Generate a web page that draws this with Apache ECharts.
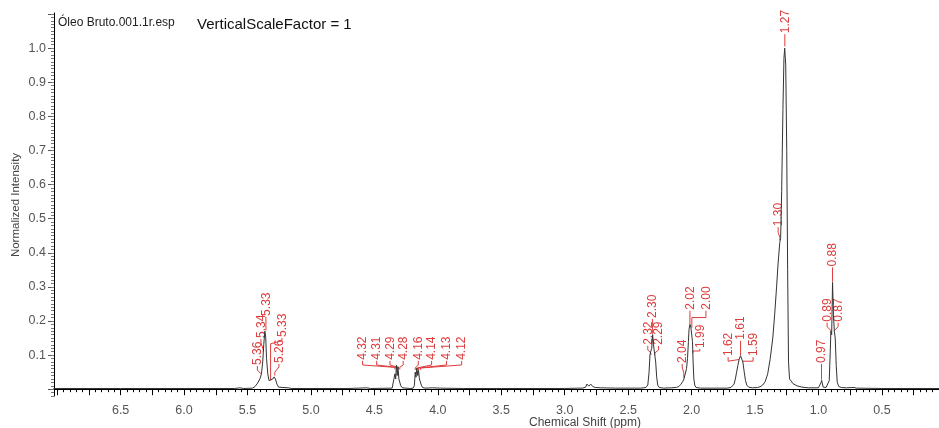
<!DOCTYPE html>
<html>
<head>
<meta charset="utf-8">
<script src="https://cdn.jsdelivr.net/npm/echarts@6/dist/echarts.min.js"></script>
<style>
html,body{margin:0;padding:0;background:#fff;}
#chart{width:939px;height:428px;}
</style>
</head>
<body>
<div id="chart"></div>
<script>
// ---------- DATA ----------
const xTickLabels = [6.5, 6.0, 5.5, 5.0, 4.5, 4.0, 3.5, 3.0, 2.5, 2.0, 1.5, 1.0, 0.5];
const yTickLabels = [0.1, 0.2, 0.3, 0.4, 0.5, 0.6, 0.7, 0.8, 0.9, 1.0];

// spectrum: [chemical shift (ppm), normalized intensity]
const spectrum = [
  [7.03,0.002],[6.5,0.002],[6.0,0.002],[5.60,0.002],[5.56,0.004],[5.53,0.002],
  [5.46,0.003],[5.44,0.008],[5.42,0.018],[5.40,0.032],[5.39,0.045],[5.38,0.08],
  [5.372,0.13],[5.363,0.17],[5.356,0.15],[5.35,0.09],[5.34,0.045],[5.33,0.025],
  [5.315,0.022],[5.30,0.03],[5.29,0.036],[5.28,0.03],[5.268,0.015],[5.255,0.006],
  [5.24,0.003],[5.18,0.004],[5.15,0.002],[4.70,0.002],[4.56,0.004],[4.53,0.002],
  [4.36,0.003],[4.345,0.008],[4.338,0.045],[4.332,0.03],[4.326,0.07],[4.32,0.04],
  [4.314,0.066],[4.307,0.03],[4.300,0.035],[4.292,0.01],[4.28,0.004],[4.22,0.002],
  [4.195,0.003],[4.185,0.01],[4.178,0.05],[4.172,0.035],[4.165,0.062],[4.158,0.04],
  [4.152,0.055],[4.145,0.03],[4.138,0.035],[4.13,0.012],[4.12,0.005],[4.10,0.003],
  [4.04,0.004],[3.98,0.003],[3.80,0.002],[3.50,0.002],[3.00,0.002],[2.90,0.003],
  [2.86,0.003],[2.835,0.006],[2.825,0.015],[2.81,0.009],[2.795,0.015],[2.78,0.008],
  [2.76,0.005],[2.72,0.004],[2.60,0.003],[2.45,0.003],
  [2.40,0.003],[2.36,0.005],[2.345,0.012],[2.335,0.05],[2.328,0.10],[2.321,0.112],
  [2.314,0.12],[2.307,0.16],[2.30,0.13],[2.295,0.115],[2.29,0.118],[2.283,0.08],
  [2.275,0.035],[2.267,0.012],[2.255,0.005],[2.22,0.003],[2.16,0.004],
  [2.12,0.005],[2.10,0.008],[2.085,0.014],[2.07,0.022],[2.06,0.03],[2.05,0.045],
  [2.04,0.06],[2.032,0.09],[2.025,0.14],[2.02,0.175],[2.013,0.19],[2.005,0.18],
  [1.998,0.175],[1.993,0.14],[1.988,0.08],[1.982,0.03],[1.975,0.012],[1.965,0.005],
  [1.93,0.003],[1.80,0.003],
  [1.72,0.003],[1.69,0.005],[1.675,0.008],[1.665,0.015],[1.655,0.03],[1.645,0.05],
  [1.635,0.07],[1.625,0.088],[1.614,0.098],[1.605,0.093],[1.596,0.08],[1.585,0.05],
  [1.575,0.025],[1.565,0.012],[1.55,0.006],[1.52,0.004],[1.48,0.005],
  [1.46,0.007],[1.44,0.012],[1.42,0.022],[1.40,0.045],[1.38,0.09],[1.36,0.15],
  [1.345,0.22],[1.33,0.3],[1.318,0.37],[1.305,0.43],[1.298,0.445],[1.29,0.58],
  [1.28,0.82],[1.272,0.97],[1.266,1.0],[1.258,0.95],[1.25,0.7],[1.243,0.35],
  [1.236,0.08],[1.228,0.03],[1.20,0.016],[1.17,0.01],[1.13,0.006],[1.08,0.004],
  [1.00,0.004],[0.985,0.005],[0.979,0.02],[0.975,0.026],[0.97,0.018],[0.963,0.006],
  [0.94,0.005],[0.925,0.008],[0.915,0.025],[0.908,0.1],[0.902,0.17],[0.896,0.16],
  [0.889,0.313],[0.882,0.22],[0.875,0.17],[0.868,0.15],[0.86,0.07],[0.852,0.02],
  [0.84,0.008],[0.82,0.005],[0.78,0.004],[0.72,0.005],[0.70,0.003],[0.50,0.002],
  [0.05,0.002]
];

// peak labels (text) and their annotation layout
const peakLabels = ['5.36','5.34','5.33','5.33','5.26',
  '4.32','4.31','4.29','4.28','4.16','4.14','4.13','4.12',
  '2.32','2.30','2.29','2.04','2.02','2.00','1.99',
  '1.62','1.61','1.59','1.30','1.27','0.97','0.89','0.88','0.87'];
// [label ppm, label base, elbow top, target ppm, elbow bottom, end]
const peakLabelLayout = [
  [5.422,0.068,0.056,5.394,0.045,0.045],
  [5.394,0.147,0.136,5.375,0.115,0.11],
  [5.355,0.212,0.212,5.355,0.172,0.172],
  [5.229,0.150,0.142,5.318,0.133,0.026],
  [5.252,0.074,0.065,5.285,0.05,0.04],
  [4.593,0.083,0.071,4.338,0.064,0.058],
  [4.482,0.083,0.071,4.326,0.064,0.06],
  [4.377,0.083,0.071,4.314,0.064,0.06],
  [4.273,0.083,0.071,4.300,0.064,0.058],
  [4.154,0.083,0.071,4.178,0.062,0.056],
  [4.049,0.083,0.071,4.165,0.062,0.056],
  [3.931,0.083,0.071,4.152,0.062,0.056],
  [3.812,0.083,0.071,4.138,0.062,0.056],
  [2.345,0.127,0.115,2.321,0.106,0.10],
  [2.307,0.206,0.206,2.307,0.162,0.162],
  [2.260,0.127,0.115,2.290,0.106,0.10],
  [2.074,0.074,0.065,2.061,0.047,0.033],
  [2.013,0.230,0.230,2.013,0.19,0.19],
  [1.887,0.230,0.210,1.998,0.21,0.18],
  [1.935,0.118,0.112,1.990,0.112,0.105],
  [1.712,0.094,0.082,1.627,0.087,0.087],
  [1.614,0.142,0.142,1.614,0.099,0.099],
  [1.515,0.094,0.082,1.596,0.082,0.08],
  [1.318,0.475,0.46,1.304,0.445,0.437],
  [1.265,1.041,1.041,1.265,1.005,1.005],
  [0.976,0.074,0.074,0.976,0.028,0.028],
  [0.932,0.195,0.183,0.902,0.172,0.17],
  [0.889,0.357,0.357,0.889,0.315,0.315],
  [0.845,0.195,0.183,0.875,0.172,0.17]
];

// ---------- CHART ----------
const X_MIN = 0.05, X_MAX = 7.025, Y_MIN = -0.02, Y_MAX = 1.103;
function steps(a, b, s) {
  const r = [];
  for (let i = Math.ceil(a / s - 1e-9); i * s <= b + 1e-9; i++) r.push(+(i * s).toFixed(4));
  return r;
}
const FONT = 'Liberation Sans, Arial, sans-serif';
const RED = '#de3c3c';
const labelData = peakLabelLayout.map(r => r.slice());

const chart = echarts.init(document.getElementById('chart'), null, {renderer: 'canvas'});
chart.setOption({
  animation: false,
  backgroundColor: '#fff',
  grid: {left: 54, right: 0, top: 13, bottom: 32, containLabel: false},
  xAxis: [
    {
      type: 'value', inverse: true, min: X_MIN, max: X_MAX, position: 'bottom',
      axisLine: {show: true, lineStyle: {color: '#000', width: 1}},
      axisTick: {show: true, length: 6, lineStyle: {color: '#000'}, customValues: steps(0.25, 7.0, 0.25)},
      axisLabel: {show: true, customValues: xTickLabels, margin: 8, color: '#555', fontSize: 12.5,
        fontFamily: FONT, formatter: v => v.toFixed(1)},
      splitLine: {show: false}
    },
    {
      type: 'value', inverse: true, min: X_MIN, max: X_MAX, position: 'bottom', gridIndex: 0,
      axisLine: {show: false},
      axisTick: {show: true, length: 3, lineStyle: {color: '#000'}, customValues: steps(0.05, 7.0, 0.05)},
      axisLabel: {show: false},
      splitLine: {show: false}
    }
  ],
  yAxis: [
    {
      type: 'value', min: Y_MIN, max: Y_MAX, position: 'left',
      axisLine: {show: true, lineStyle: {color: '#000', width: 1}},
      axisTick: {show: true, length: 6, lineStyle: {color: '#555'}, customValues: steps(0, 1.1, 0.1)},
      axisLabel: {show: true, customValues: yTickLabels, margin: 8, color: '#555', fontSize: 12.5,
        fontFamily: FONT, formatter: v => v.toFixed(1)},
      splitLine: {show: false}
    },
    {
      type: 'value', min: Y_MIN, max: Y_MAX, position: 'left', gridIndex: 0,
      axisLine: {show: false},
      axisTick: {show: true, length: 3, lineStyle: {color: '#777'}, customValues: steps(-0.02, 1.1, 0.01)},
      axisLabel: {show: false},
      splitLine: {show: false}
    }
  ],
  graphic: [
    {type: 'text', left: 58, top: 17, style: {text: 'Óleo Bruto.001.1r.esp', fontSize: 12, fontFamily: FONT, fill: '#222'}},
    {type: 'text', left: 197, top: 17, style: {text: 'VerticalScaleFactor = 1', fontSize: 15, fontFamily: FONT, fill: '#111'}},
    {type: 'text', x: 16, y: 205, rotation: Math.PI / 2,
      style: {text: 'Normalized Intensity', fontSize: 11.5, fontFamily: FONT, fill: '#444', align: 'center', verticalAlign: 'middle'}},
    {type: 'text', x: 585, y: 423,
      style: {text: 'Chemical Shift (ppm)', fontSize: 12, fontFamily: FONT, fill: '#444', align: 'center', verticalAlign: 'middle'}}
  ],
  series: [
    {
      type: 'line', xAxisIndex: 0, yAxisIndex: 0, data: spectrum, showSymbol: false,
      lineStyle: {color: '#333', width: 1}, silent: true, clip: true
    },
    {
      type: 'custom', xAxisIndex: 0, yAxisIndex: 0, coordinateSystem: 'cartesian2d',
      data: labelData, silent: true, clip: false,
      encode: {x: 0, y: 1},
      renderItem: function (params, api) {
        const lx = api.value(0), base = api.value(1), eTop = api.value(2),
              px = api.value(3), eBot = api.value(4), end = api.value(5);
        const p0 = api.coord([lx, base]);
        const p1 = api.coord([lx, eTop]);
        const p2 = api.coord([px, eBot]);
        const p3 = api.coord([px, end]);
        return {
          type: 'group',
          children: [
            {type: 'polyline', shape: {points: [p0, p1, p2, p3]},
              style: {stroke: RED, fill: null, lineWidth: 1}},
            {type: 'text', x: p0[0] + 0.5, y: p0[1] - 1, rotation: Math.PI / 2,
              style: {text: peakLabels[params.dataIndex], fontSize: 12, fontFamily: FONT,
                fill: RED, align: 'left', verticalAlign: 'middle'}}
          ]
        };
      }
    }
  ]
});
</script>
</body>
</html>
